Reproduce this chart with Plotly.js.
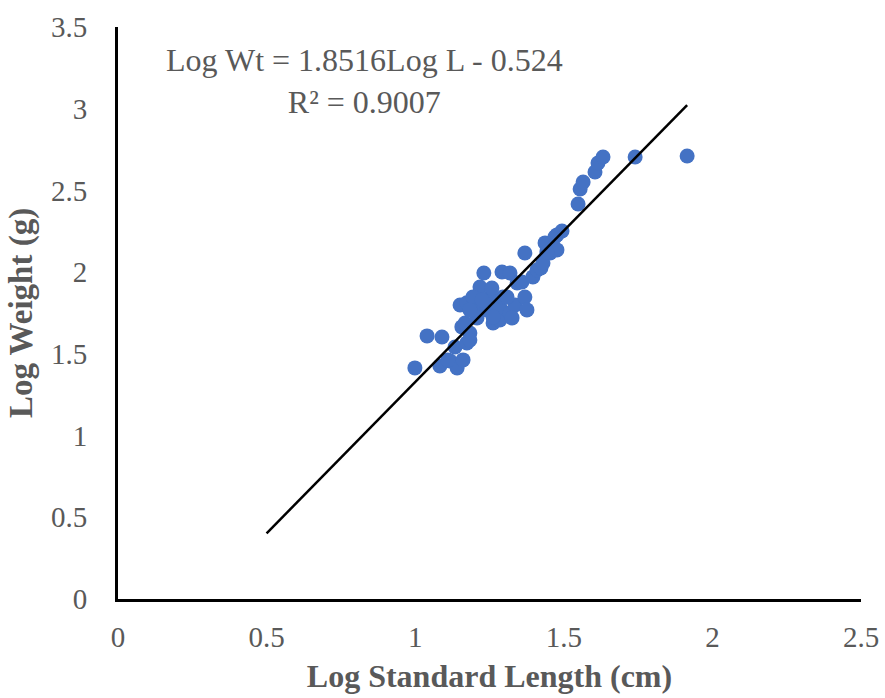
<!DOCTYPE html>
<html>
<head>
<meta charset="utf-8">
<script src="https://cdn.plot.ly/plotly-3.0.1.min.js"></script>
<style>html,body{margin:0;padding:0;background:#fff;}#chart{width:885px;height:698px;}</style>
</head>
<body>
<div id="chart"></div>
<script>
// Log standard length (cm)
const logLength = [
  0.999, 1.040, 1.090, 1.083, 1.117, 1.141, 1.161, 1.110,
  1.134, 1.174, 1.184, 1.157, 1.184, 1.208, 1.151, 1.174,
  1.168, 1.218, 1.231, 1.252, 1.262, 1.201, 1.242, 1.194,
  1.225, 1.285, 1.285, 1.295, 1.292, 1.319, 1.336, 1.326,
  1.319, 1.343, 1.359, 1.369, 1.369, 1.376, 1.396, 1.410,
  1.423, 1.430, 1.454, 1.437, 1.477, 1.477, 1.494, 1.470,
  1.548, 1.555, 1.565, 1.605, 1.615, 1.632, 1.740, 1.915,
  1.443, 1.258, 1.309, 1.262, 1.184
];
// Log weight (g)
const logWeight = [
  1.414, 1.610, 1.603, 1.426, 1.457, 1.414, 1.463, 1.463,
  1.542, 1.567, 1.628, 1.665, 1.585, 1.720, 1.799, 1.812,
  1.689, 1.909, 1.995, 1.848, 1.689, 1.769, 1.769, 1.848,
  1.830, 1.707, 1.787, 1.848, 2.001, 1.750, 1.799, 1.720,
  1.995, 1.934, 1.940, 2.117, 1.848, 1.769, 1.971, 2.013,
  2.026, 2.056, 2.117, 2.179, 2.136, 2.228, 2.252, 2.215,
  2.417, 2.509, 2.552, 2.613, 2.668, 2.705, 2.705, 2.711,
  2.124, 1.903, 1.848, 1.726, 1.769
];
// Linear trendline: Log Wt = slope * Log L + intercept
const slope = 1.8516;
const intercept = -0.524;
const r2 = 0.9007;
const trendStartX = 0.5;
const xTicks = [0, 0.5, 1, 1.5, 2, 2.5];
const yTicks = [0, 0.5, 1, 1.5, 2, 2.5, 3, 3.5];

const trendX = [trendStartX, Math.max(...logLength)];
const trendY = trendX.map(v => slope * v + intercept);

const grey = '#595959';
const serif = '"Liberation Serif", "Times New Roman", serif';

const traces = [
  {
    x: logLength, y: logWeight, type: 'scatter', mode: 'markers',
    marker: {color: '#4472C4', size: 15, line: {width: 0}},
    hoverinfo: 'x+y', showlegend: false
  },
  {
    x: trendX, y: trendY, type: 'scatter', mode: 'lines',
    line: {color: '#000000', width: 2.5},
    hoverinfo: 'skip', showlegend: false
  }
];

const layout = {
  width: 885, height: 698,
  margin: {l: 118, r: 24, t: 27, b: 99, pad: 0},
  paper_bgcolor: '#ffffff', plot_bgcolor: '#ffffff',
  font: {family: serif, color: grey},
  xaxis: {
    range: [0, 2.5], tickvals: xTicks, ticktext: xTicks.map(String),
    showgrid: false, zeroline: false,
    showline: true, linecolor: '#000000', linewidth: 3,
    ticks: 'outside', ticklen: 10, tickcolor: 'rgba(0,0,0,0)',
    tickfont: {family: serif, size: 29, color: grey},
    title: {text: '<b>Log Standard Length (cm)</b>', font: {family: serif, size: 32, color: grey}, standoff: 13},
    fixedrange: true
  },
  yaxis: {
    range: [0, 3.5], tickvals: yTicks, ticktext: yTicks.map(String),
    showgrid: false, zeroline: false,
    showline: true, linecolor: '#000000', linewidth: 3,
    ticks: 'outside', ticklen: 22, tickcolor: 'rgba(0,0,0,0)',
    tickfont: {family: serif, size: 29, color: grey},
    title: {text: '<b>Log Weight (g)</b>', font: {family: serif, size: 33, color: grey}, standoff: 9},
    fixedrange: true
  },
  annotations: [{
    x: 0.83, y: 3.17, xref: 'x', yref: 'y',
    text: 'Log Wt = ' + slope + 'Log L - ' + Math.abs(intercept) + '<br>R² = ' + r2,
    showarrow: false, align: 'center', xanchor: 'center', yanchor: 'middle',
    font: {family: serif, size: 32, color: grey}
  }],
  showlegend: false
};

Plotly.newPlot('chart', traces, layout, {displayModeBar: false, staticPlot: true});
</script>
</body>
</html>
